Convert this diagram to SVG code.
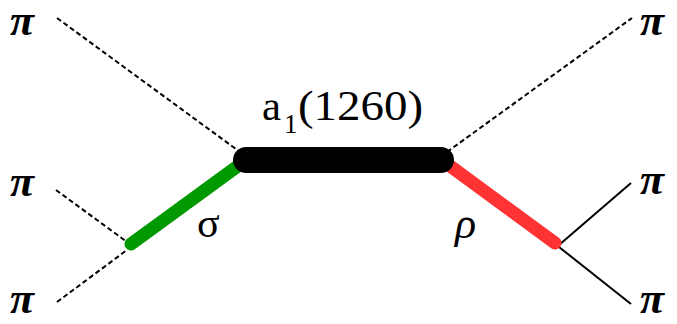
<svg xmlns="http://www.w3.org/2000/svg" width="677" height="324" viewBox="0 0 677 324">
<g id="connectors" fill="none">
<line stroke="#000" stroke-width="2" stroke-dasharray="5,3" x1="57" y1="18" x2="240" y2="152"/>
<line stroke="#000" stroke-width="2" stroke-dasharray="5,3" x1="447" y1="152" x2="632" y2="18"/>
<line stroke="#000" stroke-width="2" stroke-dasharray="5,3" x1="56" y1="190" x2="127" y2="242"/>
<line stroke="#000" stroke-width="2" stroke-dasharray="5,3" x1="57" y1="302" x2="127" y2="250"/>
<line stroke="#000" stroke-width="2" x1="559" y1="245" x2="631" y2="183"/>
<line stroke="#000" stroke-width="2" x1="559" y1="247" x2="631" y2="304"/>
<line stroke="#009900" stroke-width="13" stroke-linecap="round" x1="131" y1="244" x2="242" y2="163"/>
<line stroke="#ff3333" stroke-width="13" stroke-linecap="round" x1="446" y1="163" x2="555" y2="243"/>
</g>
<g id="a1">
<line stroke="#000" stroke-width="26" stroke-linecap="round" x1="246" y1="160" x2="441" y2="160"/>
<text x="262" y="120" style="font-family:'Liberation Serif',serif;font-size:42px" textLength="19" lengthAdjust="spacingAndGlyphs">a</text>
<text x="284" y="133" style="font-family:'Liberation Serif',serif;font-size:27px">1</text>
<text x="298" y="120" style="font-family:'Liberation Serif',serif;font-size:42px" textLength="125" lengthAdjust="spacingAndGlyphs">(1260)</text>
</g>
<g id="sigma"><text x="197" y="237" style="font-family:'Liberation Serif',serif;font-size:42px">σ</text></g>
<g id="rho"><text x="455" y="238" style="font-family:'Liberation Serif',serif;font-size:44px;font-style:italic">ρ</text></g>
<g id="pi1"><text x="10" y="35" style="font-family:'Liberation Serif',serif;font-size:44px;font-style:italic;font-weight:bold">π</text></g>
<g id="pi2"><text x="10" y="196" style="font-family:'Liberation Serif',serif;font-size:44px;font-style:italic;font-weight:bold">π</text></g>
<g id="pi3"><text x="10" y="313" style="font-family:'Liberation Serif',serif;font-size:44px;font-style:italic;font-weight:bold">π</text></g>
<g id="pi4"><text x="640" y="35" style="font-family:'Liberation Serif',serif;font-size:44px;font-style:italic;font-weight:bold">π</text></g>
<g id="pi5"><text x="640" y="194" style="font-family:'Liberation Serif',serif;font-size:44px;font-style:italic;font-weight:bold">π</text></g>
<g id="pi6"><text x="640" y="313" style="font-family:'Liberation Serif',serif;font-size:44px;font-style:italic;font-weight:bold">π</text></g>
</svg>
